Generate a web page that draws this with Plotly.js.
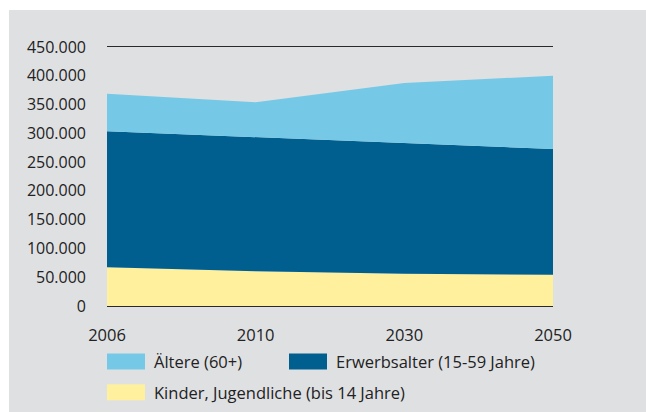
<!DOCTYPE html>
<html><head><meta charset="utf-8">
<script src="https://cdn.plot.ly/plotly-3.0.1.min.js"></script>
<style>
html,body{margin:0;padding:0;background:#ffffff;}
#chart{position:absolute;left:9px;top:10px;width:637px;height:402px;}
</style></head>
<body><div id="chart"></div>
<script>
const years = ["2006","2010","2030","2050"];
const kinder = [67400, 60500, 56000, 54200];
const erwerb = [236100, 232500, 227300, 218700];
const aeltere = [65400, 60800, 104200, 127200];
const yTickVals = [0,50000,100000,150000,200000,250000,300000,350000,400000,450000];
const yTickText = ["0","50.000","100.000","150.000","200.000","250.000","300.000","350.000","400.000","450.000"];
const names = ["Kinder, Jugendliche (bis 14 Jahre)","Erwerbsalter (15-59 Jahre)","Ältere (60+)"];
const colors = ["#fff09e","#005f8f","#76c9e6"];

const series = [kinder, erwerb, aeltere];
const traces = series.map((v,i)=>({
  x: years, y: v, type:'scatter', mode:'lines', stackgroup:'one',
  line:{width:0, color:colors[i]}, fillcolor:colors[i], name:names[i], hoverinfo:'skip'
}));

const font = {family:'"Open Sans", "Noto Sans", sans-serif', size:16, color:'#222222'};
const shapes = [];
const annotations = [];
// custom legend (positions in div pixels; plot area: left 98, width 446, bottom 296.5, height 259.5)
const legendItems = [
  {idx:2, x0:98, y0:344},
  {idx:1, x0:280, y0:344},
  {idx:0, x0:98, y0:375}
];
const px = x => (x-98)/446;
const py = y => (296.5-y)/259.5;
legendItems.forEach(it=>{
  shapes.push({type:'rect', xref:'paper', yref:'paper', line:{width:0}, fillcolor:colors[it.idx],
    x0:px(it.x0), x1:px(it.x0+38), y0:py(it.y0+16), y1:py(it.y0)});
  annotations.push({xref:'paper', yref:'paper', x:px(it.x0+45), y:py(it.y0+8.5),
    xanchor:'left', yanchor:'middle', showarrow:false, text:names[it.idx],
    font:{family:font.family, size:16.5, color:'#222222'}});
});

const layout = {
  width:637, height:402,
  margin:{l:98, r:93, t:37, b:105.5},
  paper_bgcolor:'#dfe0e2', plot_bgcolor:'rgba(0,0,0,0)',
  showlegend:false,
  font: font,
  xaxis:{type:'category', range:[0,3], showgrid:false, zeroline:false,
    showline:true, mirror:true, linecolor:'#2a2a2a', linewidth:1,
    ticks:'', ticklabelstandoff:14, tickfont:{family:font.family, size:16.5, color:'#222222'}, fixedrange:true},
  yaxis:{range:[0,450000], tickvals:yTickVals, ticktext:yTickText, showgrid:false, zeroline:false,
    showline:false, ticks:'', ticklabelstandoff:20, tickfont:font, fixedrange:true},
  shapes: shapes,
  annotations: annotations
};
Plotly.newPlot('chart', traces, layout, {displayModeBar:false, staticPlot:true});
</script></body></html>
